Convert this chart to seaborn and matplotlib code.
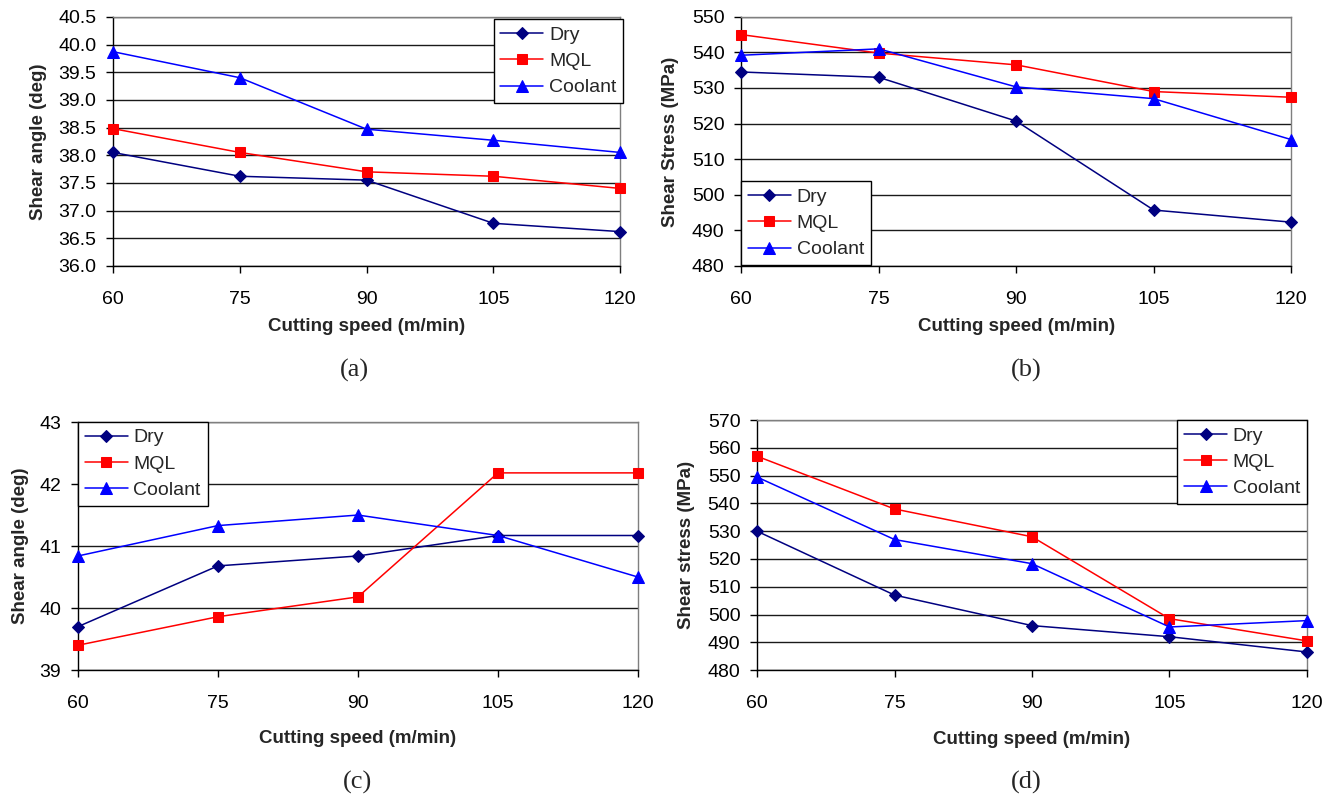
import numpy as np
import pandas as pd
import matplotlib
matplotlib.use("Agg")
import matplotlib.pyplot as plt
import seaborn as sns

# cutting speed (m/min)
speed = [60, 75, 90, 105, 120]
conditions = ["Dry", "MQL", "Coolant"]

# (a) shear angle (deg)
a_dry = [38.05, 37.62, 37.55, 36.77, 36.62]
a_mql = [38.48, 38.05, 37.70, 37.62, 37.40]
a_cool = [39.87, 39.40, 38.47, 38.27, 38.05]

# (b) shear stress (MPa)
b_dry = [534.5, 533.0, 520.7, 495.7, 492.3]
b_mql = [545.0, 539.8, 536.5, 529.0, 527.4]
b_cool = [539.2, 541.0, 530.3, 527.0, 515.5]

# (c) shear angle (deg)
c_dry = [39.70, 40.68, 40.84, 41.17, 41.17]
c_mql = [39.40, 39.86, 40.18, 42.18, 42.18]
c_cool = [40.84, 41.33, 41.50, 41.17, 40.50]

# (d) shear stress (MPa)
d_dry = [530.0, 507.0, 496.0, 492.0, 486.5]
d_mql = [557.0, 538.0, 528.0, 498.5, 490.5]
d_cool = [549.5, 527.0, 518.3, 495.5, 497.8]

palette = {"Dry": "#000080", "MQL": "#FF0000", "Coolant": "#0000FF"}
marker_map = {"Dry": "D", "MQL": "s", "Coolant": "^"}
marker_sizes = {"Dry": 6, "MQL": 7, "Coolant": 8}


def long_form(dry, mql, cool):
    rows = []
    for cond, vals in zip(conditions, [dry, mql, cool]):
        for s, v in zip(speed, vals):
            rows.append({"speed": s, "value": v, "condition": cond})
    return pd.DataFrame(rows)


sns.set_style("white")
plt.rcParams["font.family"] = ["Liberation Sans", "DejaVu Sans"]

fig = plt.figure(figsize=(13.38, 8.01), dpi=100)

panels = [
    # rect, data, ylim, yticks, fmt, ylabel, ylab_x, legend loc, anchor, xlab_y, tag xy, tag
    ([0.0845, 0.668, 0.379, 0.311], (a_dry, a_mql, a_cool), (36.0, 40.5),
     np.arange(36.0, 40.51, 0.5), "{:.1f}", "Shear angle (deg)", -0.130,
     "upper right", (1.006, 0.99), -0.209, (354, 370), "(a)"),
    ([0.554, 0.668, 0.411, 0.311], (b_dry, b_mql, b_cool), (480, 550),
     np.arange(480, 551, 10), "{:.0f}", "Shear Stress (MPa)", -0.113,
     "lower left", (0.0, 0.003), -0.209, (1026, 370), "(b)"),
    ([0.0583, 0.1635, 0.4185, 0.3096], (c_dry, c_mql, c_cool), (39, 43),
     np.arange(39, 43.1, 1), "{:.0f}", "Shear angle (deg)", -0.0875,
     "upper left", (0.0, 1.0), -0.242, (357, 782), "(c)"),
    ([0.5658, 0.1635, 0.411, 0.312], (d_dry, d_mql, d_cool), (480, 570),
     np.arange(480, 571, 10), "{:.0f}", "Shear stress (MPa)", -0.113,
     "upper right", (1.0, 1.0), -0.242, (1026, 782), "(d)"),
]

for (rect, series, ylim, yticks, fmt, ylabel, ylab_x,
     loc, anchor, xlab_y, tag_xy, tag) in panels:
    ax = fig.add_axes(rect)
    df = long_form(*series)
    sns.lineplot(data=df, x="speed", y="value", hue="condition", style="condition",
                 hue_order=conditions, style_order=conditions, palette=palette,
                 markers=marker_map, dashes=False, linewidth=1.1, ax=ax, legend=False)
    for line, cond in zip(ax.lines, conditions):
        line.set_markeredgecolor(line.get_color())
        line.set_markerfacecolor(line.get_color())
        line.set_markersize(marker_sizes[cond])
        line.set_clip_on(False)
        line.set_zorder(3)
        line.set_label(cond)

    ax.set_xlim(60, 120)
    ax.set_xticks(speed)
    ax.set_ylim(*ylim)
    ax.set_yticks(yticks)
    ax.set_yticklabels([fmt.format(t) for t in yticks])
    ax.yaxis.grid(True, color="#1a1a1a", linewidth=1.0)
    ax.xaxis.grid(False)
    ax.set_axisbelow(True)
    for sp in ax.spines.values():
        sp.set_color("black")
        sp.set_linewidth(1.0)
    ax.spines["top"].set_color("#7f7f7f")
    ax.spines["right"].set_color("#7f7f7f")

    ax.tick_params(axis="x", direction="out", length=5, width=1, pad=13,
                   labelsize=14, colors="black", bottom=True)
    ax.tick_params(axis="y", direction="out", length=5, width=1, pad=7,
                   labelsize=14, colors="black", left=True)

    ax.set_xlabel("Cutting speed (m/min)", fontsize=13.5, fontweight="bold")
    ax.set_ylabel(ylabel, fontsize=13.5, fontweight="bold")
    ax.xaxis.set_label_coords(0.5, xlab_y)
    ax.yaxis.set_label_coords(ylab_x, 0.5)

    leg = ax.legend(handles=ax.lines[:3], labels=conditions, loc=loc,
                    bbox_to_anchor=anchor, borderaxespad=0, fontsize=14,
                    frameon=True, fancybox=False, framealpha=1,
                    edgecolor="black", handlelength=2.2, handletextpad=0.3,
                    borderpad=0.35, labelspacing=0.45)
    leg.get_frame().set_linewidth(1.0)
    leg.set_zorder(5)

    fig.text(tag_xy[0] / 1338, 1 - tag_xy[1] / 801, tag, ha="center", va="center",
             fontsize=19, family=["Liberation Serif", "DejaVu Serif"])

fig.savefig("out.png", dpi=100)
plt.close(fig)
